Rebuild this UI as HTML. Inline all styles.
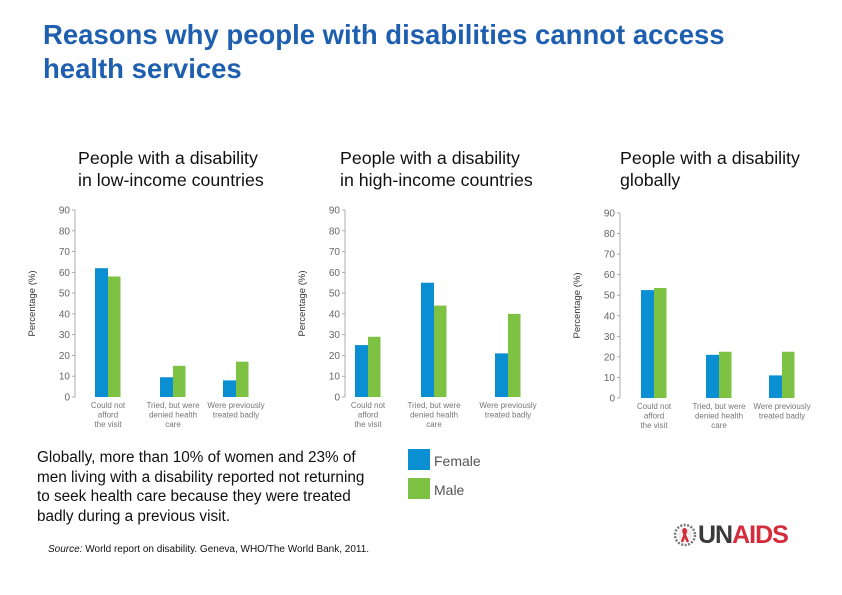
<!DOCTYPE html>
<html><head><meta charset="utf-8"><style>
body{margin:0;width:842px;height:595px;background:#fff;font-family:"Liberation Sans",sans-serif;position:relative;overflow:hidden}
.t{position:absolute;margin:0}
</style></head><body>
<div class="t" style="left:43px;top:18px;font-size:27.5px;font-weight:bold;line-height:34px;color:#1f5fb0;white-space:nowrap">Reasons why people with disabilities cannot access<br>health services</div>
<div class="t" style="left:78px;top:147px;font-size:17.8px;line-height:22px;color:#111">People with a disability<br>in low-income countries</div>
<div class="t" style="left:340px;top:147px;font-size:17.8px;line-height:22px;color:#111">People with a disability<br>in high-income countries</div>
<div class="t" style="left:620px;top:147px;font-size:17.8px;line-height:22px;color:#111">People with a disability<br>globally</div>
<svg id="charts" width="842" height="595" style="position:absolute;left:0;top:0"></svg>
<div class="t" style="left:37px;top:448px;font-size:15.3px;line-height:19.7px;color:#111;width:342px">Globally, more than 10% of women and 23% of men living with a disability reported not returning to seek health care because they were treated badly during a previous visit.</div>
<div class="t" style="left:48px;top:544px;font-size:10px;color:#111"><i>Source:</i> World report on disability. Geneva, WHO/The World Bank, 2011.</div>
<div style="position:absolute;left:408px;top:449px;width:22px;height:21px;background:#0a8fd3"></div>
<div class="t" style="left:434px;top:453px;font-size:14px;color:#555">Female</div>
<div style="position:absolute;left:408px;top:478px;width:22px;height:21px;background:#7dc242"></div>
<div class="t" style="left:434px;top:482px;font-size:14px;color:#555">Male</div>
<div style="position:absolute;left:673px;top:522px;height:26px;display:flex;align-items:center">
<svg width="24" height="24"><circle cx="12" cy="12" r="10" fill="none" stroke="#777" stroke-width="2.5" stroke-dasharray="2 1.5"/><circle cx="12" cy="12" r="7" fill="#eee"/><path d="M9 19 L13 8 Q12 5 10.5 7 Q10 9 15 19" fill="none" stroke="#d52b3a" stroke-width="2.5"/></svg>
<span style="font-size:25px;font-weight:bold;letter-spacing:-1px;color:#3a3a3a;margin-left:1px">UN</span><span style="font-size:25px;font-weight:bold;letter-spacing:-1px;color:#d52b3a">AIDS</span>
</div>
<script>
const categories=[["Could not","afford","the visit"],["Tried, but were","denied health","care"],["Were previously","treated badly"]];
const ticks=[0,10,20,30,40,50,60,70,80,90];
const lowFemale=[62,9.5,8];
const lowMale=[58,15,17];
const highFemale=[25,55,21];
const highMale=[29,44,40];
const globalFemale=[52.5,21,11];
const globalMale=[53.5,22.5,22.5];
const NS="http://www.w3.org/2000/svg";
const svg=document.getElementById('charts');
function mk(t,a){const e=document.createElementNS(NS,t);for(const k in a)e.setAttribute(k,a[k]);return e;}
function chart(ax,y0,y90,groupX,fem,mal,name){
 const y=v=>y0-(v/90)*(y0-y90);
 const g=mk('g',{});
 
 
 svg.appendChild(g);
 g.appendChild(mk('line',{x1:ax,y1:y(0),x2:ax,y2:y(90),stroke:'#999','stroke-width':0.8}));
 ticks.forEach(t=>{
  g.appendChild(mk('line',{x1:ax-3,y1:y(t),x2:ax,y2:y(t),stroke:'#999','stroke-width':0.8}));
  const tx=mk('text',{x:ax-5,y:y(t)+3.5,'text-anchor':'end','font-size':10,fill:'#666'});
  tx.textContent=t;
  
  
  g.appendChild(tx);
 });
 const yt=mk('text',{transform:`translate(${ax-40},${(y0+y90)/2}) rotate(-90)`,'text-anchor':'middle','font-size':9.5,fill:'#333'});
 yt.textContent='Percentage (%)';
 
 
 g.appendChild(yt);
 categories.forEach((c,i)=>{
  const gx=groupX[i];
  const b1=mk('rect',{x:gx,y:y(fem[i]),width:13,height:y(0)-y(fem[i]),fill:'#0a8fd3'});
  
  
  g.appendChild(b1);
  const b2=mk('rect',{x:gx+13,y:y(mal[i]),width:12.5,height:y(0)-y(mal[i]),fill:'#7dc242'});
  
  
  g.appendChild(b2);
  c.forEach((ln,j)=>{
   const tx=mk('text',{x:gx+13,y:y0+11+j*9.5,'text-anchor':'middle','font-size':8,fill:'#777'});
   tx.textContent=ln;
   
   
   g.appendChild(tx);
  });
 });
}
chart(75,397,210,[95,160,223],lowFemale,lowMale,'chart-low-income');
chart(345,397,210,[355,421,495],highFemale,highMale,'chart-high-income');
chart(620,398,213,[641,706,769],globalFemale,globalMale,'chart-global');
</script>
</body></html>
